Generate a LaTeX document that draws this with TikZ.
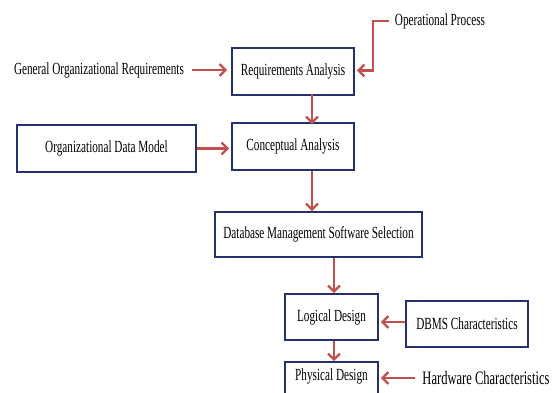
\documentclass[tikz,border=0pt]{standalone}
\usepackage{fontspec}
\setmainfont[FakeStretch=0.66]{Liberation Serif}
\usepackage{tikz}
\usetikzlibrary{arrows.meta, positioning, calc}

\definecolor{boxblue}{RGB}{38,48,110}
\definecolor{arrred}{RGB}{192,80,77}

\begin{document}
\begin{tikzpicture}[
    x=1pt, y=-1pt,
    font=\fontsize{17}{19}\selectfont,
    box/.style={rectangle, draw=boxblue, line width=1.8pt, inner sep=0pt},
    label/.style={inner sep=0pt},
    arrow/.style={-{Straight Barb[length=6pt, width=12pt, line width=2.2pt]}, draw=arrred, line width=2.2pt}
]
\clip (0,0) rectangle (557,393);
\node[box, minimum width=122pt, minimum height=47pt] (reqs) at (293,71.5) {Requirements Analysis};
\node[box, minimum width=122pt, minimum height=47pt] (concept) at (293,146.5) {Conceptual Analysis};
\node[box, minimum width=179pt, minimum height=47pt] (orgdata) at (106.5,148.5) {Organizational Data Model};
\node[box, minimum width=207pt, minimum height=45pt] (dmss) at (318.5,234.5) {Database Management Software Selection};
\node[box, minimum width=93pt, minimum height=46pt] (logical) at (331.5,317) {Logical Design};
\node[box, minimum width=122pt, minimum height=46pt] (dbms) at (467,324) {DBMS Characteristics};
\node[box, minimum width=93pt, minimum height=36pt] (physical) at (331.5,380) {};
\node[label] (physlabel) at (331.5,376) {Physical Design};
\node[label] (genreq) at (99,70) {General Organizational Requirements};
\node[label] (opproc) at (440,21) {Operational Process};
\node[label, font=\fontsize{19}{21}\selectfont] (hardware) at (486,378) {Hardware Characteristics};

\draw[arrow] ([xshift=8pt]genreq.east) -- ([xshift=-4pt]reqs.west |- genreq.east);
\draw[arrow] ([xshift=-6pt]opproc.west) -- ++(-16,0) |- ([xshift=2pt,yshift=1pt]reqs.east);
\draw[arrow] ([xshift=19pt,yshift=2pt]reqs.south) -- ([xshift=19pt,yshift=-2pt]concept.north);
\draw[arrow] (orgdata.east) -- ([xshift=-2pt]concept.west |- orgdata.east);
\draw[arrow] ([xshift=19pt]concept.south) -- ([xshift=-6.5pt]dmss.north);
\draw[arrow] ([xshift=15.5pt]dmss.south) -- ([xshift=2.5pt]logical.north);
\draw[arrow] ([yshift=2pt]dbms.west) -- ($(logical.east |- dbms.west)+(2,-2)$);
\draw[arrow] ([xshift=2.5pt]logical.south) -- ([xshift=2.5pt]physical.north);
\draw[arrow] ([xshift=-7pt]hardware.west) -- ([xshift=2pt]physical.east |- hardware.west);
\end{tikzpicture}
\end{document}
